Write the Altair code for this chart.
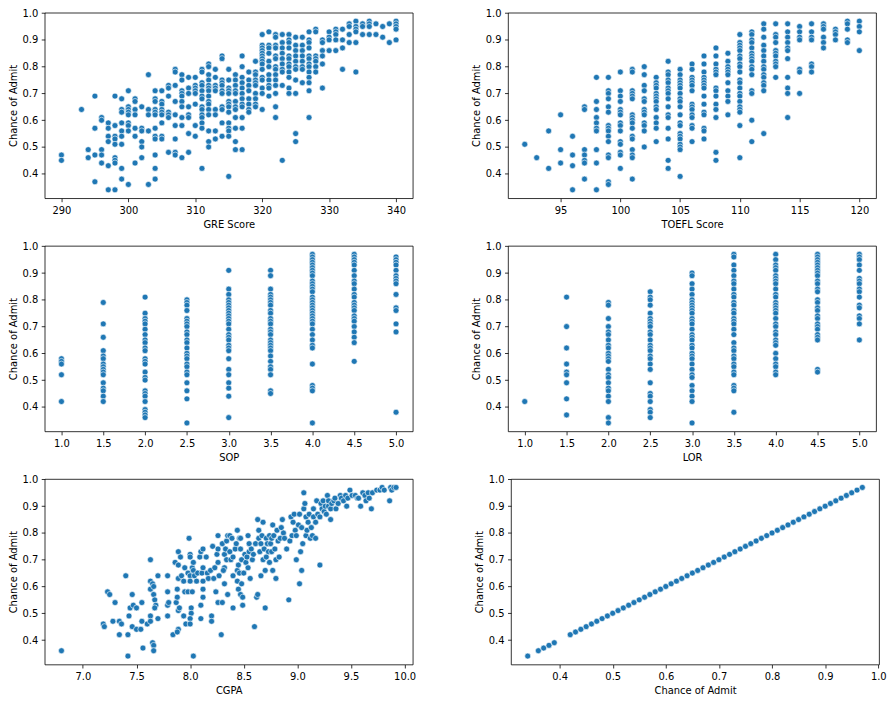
import altair as alt
import pandas as pd

# ---------------- data ----------------
GRE_COLS = [
    (290, [0.47, 0.45]),
    (293, [0.64]),
    (294, [0.49, 0.46]),
    (295, [0.69, 0.57, 0.47, 0.37]),
    (296, [0.61, 0.60, 0.49, 0.47, 0.44]),
    (297, [0.59, 0.57, 0.54, 0.52, 0.43, 0.34]),
    (298, [0.69, 0.58, 0.54, 0.53, 0.51, 0.46, 0.45, 0.44, 0.34]),
    (299, [0.68, 0.64, 0.63, 0.59, 0.56, 0.54, 0.51, 0.42, 0.38]),
    (300, [0.71, 0.65, 0.64, 0.63, 0.62, 0.59, 0.58, 0.56, 0.36]),
    (301, [0.68, 0.67, 0.64, 0.62, 0.57, 0.54, 0.44]),
    (302, [0.65, 0.57, 0.56, 0.52, 0.50, 0.46]),
    (303, [0.77, 0.64, 0.62, 0.56, 0.36]),
    (304, [0.71, 0.68, 0.67, 0.64, 0.63, 0.62, 0.57, 0.54, 0.53, 0.47, 0.42, 0.38]),
    (305, [0.71, 0.67, 0.66, 0.64, 0.63, 0.62, 0.59, 0.54, 0.53]),
    (306, [0.73, 0.72, 0.69, 0.63, 0.62, 0.61, 0.48]),
    (307, [0.79, 0.78, 0.73, 0.67, 0.62, 0.58, 0.53, 0.48, 0.47]),
    (308, [0.77, 0.75, 0.71, 0.70, 0.69, 0.67, 0.65, 0.61, 0.58, 0.46]),
    (309, [0.76, 0.72, 0.70, 0.65, 0.62, 0.61, 0.55, 0.48]),
    (310, [0.76, 0.73, 0.72, 0.71, 0.70, 0.66, 0.58, 0.54]),
    (311, [0.79, 0.78, 0.74, 0.73, 0.71, 0.69, 0.68, 0.65, 0.64, 0.62, 0.61, 0.59, 0.57, 0.42]),
    (312, [0.81, 0.80, 0.77, 0.75, 0.73, 0.72, 0.71, 0.69, 0.67, 0.66, 0.64, 0.62, 0.56, 0.52, 0.50]),
    (313, [0.79, 0.76, 0.73, 0.72, 0.71, 0.64, 0.62, 0.56, 0.53]),
    (314, [0.84, 0.83, 0.75, 0.74, 0.73, 0.71, 0.70, 0.65, 0.64, 0.59, 0.54]),
    (315, [0.79, 0.75, 0.72, 0.71, 0.70, 0.67, 0.66, 0.65, 0.63, 0.59, 0.57, 0.56, 0.54, 0.39]),
    (316, [0.77, 0.75, 0.73, 0.71, 0.70, 0.67, 0.65, 0.64, 0.61, 0.57, 0.52, 0.49]),
    (317, [0.84, 0.80, 0.76, 0.74, 0.72, 0.70, 0.68, 0.66, 0.65, 0.61, 0.57, 0.49]),
    (318, [0.78, 0.75, 0.73, 0.71, 0.68, 0.66, 0.64, 0.63]),
    (319, [0.82, 0.78, 0.77, 0.75, 0.74, 0.73, 0.70, 0.68, 0.66, 0.65]),
    (320, [0.92, 0.88, 0.87, 0.86, 0.85, 0.84, 0.83, 0.82, 0.81, 0.79, 0.76, 0.75, 0.72, 0.70, 0.64]),
    (321, [0.93, 0.88, 0.87, 0.85, 0.82, 0.80, 0.77, 0.75, 0.73, 0.72, 0.69]),
    (322, [0.92, 0.91, 0.88, 0.87, 0.84, 0.83, 0.80, 0.79, 0.77, 0.75, 0.73, 0.70, 0.65, 0.61]),
    (323, [0.92, 0.89, 0.87, 0.85, 0.83, 0.81, 0.79, 0.78, 0.73, 0.45]),
    (324, [0.92, 0.90, 0.89, 0.87, 0.84, 0.83, 0.81, 0.80, 0.78, 0.76, 0.72, 0.70]),
    (325, [0.91, 0.88, 0.86, 0.84, 0.82, 0.80, 0.79, 0.75, 0.70, 0.55, 0.52]),
    (326, [0.91, 0.88, 0.86, 0.84, 0.82, 0.80, 0.79, 0.74]),
    (327, [0.93, 0.90, 0.89, 0.87, 0.84, 0.83, 0.81, 0.80, 0.78, 0.76, 0.74, 0.71, 0.61]),
    (328, [0.94, 0.93, 0.84, 0.83, 0.82, 0.80, 0.78]),
    (329, [0.90, 0.89, 0.86, 0.84, 0.81, 0.72]),
    (330, [0.93, 0.91, 0.90, 0.86]),
    (331, [0.94, 0.93, 0.92, 0.90, 0.86]),
    (332, [0.94, 0.90, 0.87, 0.79]),
    (333, [0.96, 0.95, 0.92, 0.89]),
    (334, [0.97, 0.95, 0.94, 0.93, 0.89, 0.78]),
    (335, [0.96, 0.95, 0.92]),
    (336, [0.97, 0.96, 0.95, 0.92]),
    (337, [0.96, 0.92]),
    (338, [0.95, 0.91]),
    (339, [0.96, 0.89]),
    (340, [0.97, 0.96, 0.95, 0.94, 0.90]),
]

TOEFL_COLS = [
    (92, [0.51]),
    (93, [0.46]),
    (94, [0.56, 0.42]),
    (95, [0.62, 0.49, 0.44]),
    (96, [0.54, 0.47, 0.43, 0.34]),
    (97, [0.65, 0.64, 0.49, 0.47, 0.45, 0.44, 0.38]),
    (98, [0.76, 0.67, 0.64, 0.61, 0.59, 0.57, 0.56, 0.49, 0.44, 0.34]),
    (99, [0.76, 0.71, 0.70, 0.68, 0.65, 0.63, 0.58, 0.57, 0.56, 0.54, 0.52, 0.47, 0.46, 0.37, 0.36]),
    (100, [0.78, 0.71, 0.69, 0.67, 0.64, 0.63, 0.62, 0.59, 0.58, 0.56, 0.52, 0.51, 0.48, 0.47, 0.42]),
    (101, [0.79, 0.78, 0.71, 0.70, 0.69, 0.68, 0.62, 0.61, 0.60, 0.59, 0.57, 0.54, 0.53, 0.49, 0.47, 0.46, 0.38]),
    (102, [0.80, 0.77, 0.73, 0.71, 0.68, 0.67, 0.64, 0.63, 0.62, 0.59, 0.58, 0.56, 0.50]),
    (103, [0.76, 0.74, 0.73, 0.72, 0.70, 0.69, 0.68, 0.67, 0.65, 0.64, 0.61, 0.59, 0.57, 0.52]),
    (104, [0.82, 0.78, 0.77, 0.75, 0.74, 0.72, 0.71, 0.70, 0.68, 0.65, 0.62, 0.61, 0.57, 0.53, 0.45, 0.42]),
    (105, [0.79, 0.77, 0.75, 0.74, 0.73, 0.72, 0.70, 0.68, 0.67, 0.65, 0.62, 0.59, 0.58, 0.55, 0.54, 0.53, 0.51, 0.50, 0.49, 0.39]),
    (106, [0.81, 0.79, 0.76, 0.75, 0.74, 0.73, 0.71, 0.66, 0.65, 0.64, 0.62, 0.61, 0.58, 0.57, 0.52]),
    (107, [0.84, 0.81, 0.78, 0.76, 0.75, 0.74, 0.73, 0.72, 0.69, 0.66, 0.63, 0.62, 0.57, 0.56, 0.53]),
    (108, [0.87, 0.84, 0.81, 0.79, 0.78, 0.77, 0.72, 0.71, 0.69, 0.66, 0.64, 0.61, 0.48, 0.45]),
    (109, [0.85, 0.82, 0.80, 0.79, 0.78, 0.77, 0.74, 0.71, 0.69, 0.67, 0.62]),
    (110, [0.92, 0.89, 0.88, 0.87, 0.86, 0.84, 0.83, 0.81, 0.80, 0.78, 0.75, 0.74, 0.72, 0.70, 0.69, 0.67, 0.65, 0.64, 0.63, 0.58, 0.46]),
    (111, [0.93, 0.92, 0.90, 0.89, 0.87, 0.85, 0.84, 0.83, 0.82, 0.80, 0.79, 0.77, 0.71, 0.70, 0.60, 0.52]),
    (112, [0.96, 0.94, 0.91, 0.88, 0.86, 0.84, 0.82, 0.80, 0.79, 0.77, 0.76, 0.74, 0.73, 0.71, 0.55]),
    (113, [0.96, 0.92, 0.91, 0.89, 0.86, 0.85, 0.84, 0.82, 0.81, 0.80, 0.76]),
    (114, [0.96, 0.93, 0.91, 0.89, 0.87, 0.86, 0.83, 0.76, 0.72, 0.70, 0.61]),
    (115, [0.95, 0.93, 0.91, 0.90, 0.79, 0.78, 0.70]),
    (116, [0.96, 0.93, 0.91, 0.90, 0.81, 0.80, 0.78]),
    (117, [0.96, 0.95, 0.94, 0.91, 0.89, 0.87]),
    (118, [0.94, 0.93, 0.92, 0.90]),
    (119, [0.97, 0.96, 0.94, 0.90, 0.89]),
    (120, [0.97, 0.95, 0.93, 0.86]),
]

SOP_COLS = [
    (1.0, [0.58, 0.57, 0.56, 0.52, 0.42]),
    (1.5, [0.79, 0.71, 0.66, 0.61, 0.59, 0.58, 0.56, 0.55, 0.54, 0.53, 0.52, 0.49, 0.47, 0.46, 0.44, 0.42]),
    (2.0, [0.81, 0.75, 0.73, 0.72, 0.71, 0.69, 0.67, 0.65, 0.64, 0.62, 0.61, 0.58, 0.57, 0.56, 0.53, 0.51,
           0.50, 0.46, 0.45, 0.44, 0.42, 0.39, 0.38, 0.37, 0.36]),
    (2.5, [0.80, 0.79, 0.78, 0.76, 0.73, 0.72, 0.71, 0.70, 0.68, 0.67, 0.65, 0.64, 0.62, 0.60, 0.59, 0.58,
           0.56, 0.55, 0.53, 0.52, 0.49, 0.46, 0.43, 0.34]),
    (3.0, [0.91, 0.84, 0.82, 0.80, 0.79, 0.78, 0.77, 0.76, 0.75, 0.74, 0.73, 0.72, 0.71, 0.69, 0.67, 0.66,
           0.65, 0.63, 0.62, 0.61, 0.58, 0.54, 0.52, 0.49, 0.47, 0.44, 0.36]),
    (3.5, [0.91, 0.89, 0.84, 0.82, 0.81, 0.80, 0.79, 0.78, 0.76, 0.75, 0.73, 0.72, 0.71, 0.69, 0.68, 0.67,
           0.65, 0.64, 0.63, 0.62, 0.61, 0.59, 0.57, 0.55, 0.54, 0.52, 0.46, 0.45]),
    (4.0, [0.97, 0.96, 0.95, 0.94, 0.93, 0.92, 0.91, 0.90, 0.89, 0.87, 0.86, 0.85, 0.84, 0.83, 0.81, 0.80,
           0.79, 0.78, 0.77, 0.76, 0.75, 0.74, 0.73, 0.72, 0.71, 0.69, 0.67, 0.65, 0.63, 0.62, 0.56, 0.48,
           0.47, 0.46, 0.34]),
    (4.5, [0.97, 0.96, 0.95, 0.94, 0.93, 0.91, 0.89, 0.87, 0.86, 0.84, 0.82, 0.81, 0.79, 0.78, 0.77, 0.76,
           0.74, 0.73, 0.72, 0.70, 0.68, 0.66, 0.64, 0.57]),
    (5.0, [0.96, 0.95, 0.94, 0.93, 0.91, 0.89, 0.88, 0.87, 0.86, 0.82, 0.77, 0.76, 0.71, 0.68, 0.38]),
]

LOR_COLS = [
    (1.0, [0.42]),
    (1.5, [0.81, 0.70, 0.62, 0.56, 0.53, 0.52, 0.49, 0.43, 0.37]),
    (2.0, [0.79, 0.78, 0.73, 0.70, 0.68, 0.67, 0.65, 0.63, 0.62, 0.60, 0.59, 0.58, 0.57, 0.54, 0.52, 0.51,
           0.49, 0.47, 0.46, 0.44, 0.42, 0.36, 0.34]),
    (2.5, [0.83, 0.81, 0.80, 0.78, 0.75, 0.73, 0.72, 0.71, 0.70, 0.68, 0.67, 0.65, 0.63, 0.62, 0.61, 0.59,
           0.58, 0.56, 0.54, 0.49, 0.45, 0.44, 0.42, 0.39, 0.38, 0.36]),
    (3.0, [0.90, 0.89, 0.86, 0.84, 0.82, 0.80, 0.79, 0.78, 0.77, 0.76, 0.75, 0.73, 0.72, 0.71, 0.69, 0.67,
           0.66, 0.65, 0.63, 0.62, 0.60, 0.59, 0.58, 0.56, 0.54, 0.52, 0.51, 0.48, 0.46, 0.44, 0.42, 0.34]),
    (3.5, [0.97, 0.96, 0.93, 0.91, 0.89, 0.87, 0.86, 0.84, 0.82, 0.81, 0.79, 0.78, 0.76, 0.75, 0.73, 0.72,
           0.71, 0.69, 0.67, 0.64, 0.62, 0.61, 0.59, 0.58, 0.56, 0.55, 0.53, 0.52, 0.48, 0.47, 0.46, 0.38]),
    (4.0, [0.97, 0.95, 0.93, 0.92, 0.91, 0.89, 0.88, 0.87, 0.86, 0.84, 0.82, 0.81, 0.79, 0.78, 0.77, 0.76,
           0.75, 0.73, 0.71, 0.70, 0.68, 0.67, 0.65, 0.64, 0.63, 0.60, 0.58, 0.56, 0.55, 0.53, 0.52]),
    (4.5, [0.97, 0.96, 0.95, 0.94, 0.93, 0.92, 0.91, 0.90, 0.89, 0.87, 0.86, 0.84, 0.83, 0.80, 0.79, 0.77,
           0.76, 0.74, 0.73, 0.71, 0.70, 0.69, 0.67, 0.66, 0.65, 0.54, 0.53]),
    (5.0, [0.97, 0.96, 0.95, 0.93, 0.91, 0.88, 0.87, 0.86, 0.84, 0.83, 0.81, 0.78, 0.77, 0.74, 0.73, 0.71, 0.65]),
]

CGPA_X = [
    6.80, 7.19, 7.20, 7.23, 7.25, 7.28, 7.30, 7.34, 7.34, 7.36, 7.40, 7.42, 7.42, 7.43, 7.44, 7.46, 7.47,
    7.46, 7.50, 7.50, 7.54, 7.55, 7.55, 7.56, 7.60, 7.63, 7.63, 7.63, 7.63, 7.63, 7.65, 7.66, 7.66, 7.65,
    7.66, 7.66, 7.67, 7.68, 7.67, 7.70, 7.70, 7.79, 7.79, 7.79, 7.79, 7.80, 7.84, 7.86, 7.87, 7.88, 7.88,
    7.89, 7.89, 7.89, 7.89, 7.89, 7.88, 7.90, 7.91, 7.92, 7.94, 7.94, 7.95, 7.95, 7.96, 7.98, 7.98, 7.99,
    8.00, 8.00, 8.00, 8.00, 8.01, 8.01, 8.00, 8.00, 8.02, 8.02, 8.03, 8.03, 8.03, 8.04, 8.06, 8.07, 8.09,
    8.10, 8.10, 8.10, 8.11, 8.12, 8.12, 8.12, 8.12, 8.12, 8.15, 8.16, 8.17, 8.19, 8.20, 8.20, 8.21, 8.22,
    8.23, 8.24, 8.25, 8.26, 8.26, 8.26, 8.26, 8.27, 8.29, 8.30, 8.30, 8.32, 8.32, 8.33, 8.34, 8.34, 8.35,
    8.35, 8.32, 8.31,
    8.37, 8.37, 8.38, 8.39, 8.40, 8.40, 8.40, 8.42, 8.43, 8.44, 8.44, 8.44, 8.45, 8.45, 8.46, 8.46, 8.47,
    8.47, 8.47, 8.48, 8.48, 8.49, 8.49, 8.50, 8.51, 8.52, 8.53, 8.54, 8.54, 8.55, 8.55, 8.56, 8.57, 8.58,
    8.59, 8.60, 8.61, 8.62, 8.63, 8.63, 8.64, 8.64, 8.65, 8.66, 8.66, 8.67, 8.68, 8.68, 8.69, 8.70, 8.70,
    8.71, 8.71, 8.72, 8.73, 8.74, 8.74, 8.75, 8.76, 8.76, 8.77, 8.77, 8.78, 8.79, 8.80, 8.80, 8.81, 8.82,
    8.83, 8.84, 8.85, 8.86, 8.87, 8.88, 8.90, 8.92, 8.93, 8.94, 8.95, 8.96, 8.97, 8.98, 8.99, 8.99, 9.01,
    9.02, 9.02, 9.03, 9.04, 9.04, 9.05, 9.06, 9.06, 9.07, 9.08, 9.08, 9.09, 9.10, 9.11, 9.12, 9.13, 9.14,
    9.15, 9.15, 9.17, 9.17, 9.18, 9.19, 9.21, 9.21, 9.22, 9.23, 9.24, 9.25, 9.26, 9.27, 9.28, 9.29, 9.29,
    9.31, 9.31, 9.32, 9.34, 9.35, 9.36, 9.38, 9.40, 9.41, 9.43, 9.45, 9.46, 9.47, 9.49, 9.51, 9.54, 9.56,
    9.57, 9.59, 9.61, 9.63, 9.64, 9.66, 9.67, 9.69, 9.70, 9.74, 9.77, 9.79, 9.81, 9.86, 9.87, 9.88, 9.90,
    9.92,
]
CGPA_Y = [
    0.36, 0.46, 0.45, 0.58, 0.57, 0.47, 0.54, 0.47, 0.42, 0.46, 0.64, 0.42, 0.34, 0.49, 0.52, 0.57, 0.53,
    0.45, 0.52, 0.44, 0.44, 0.54, 0.47, 0.37, 0.46, 0.70, 0.62, 0.59, 0.49, 0.47, 0.39, 0.38, 0.36, 0.61,
    0.60, 0.57, 0.55, 0.53, 0.52, 0.64, 0.48, 0.64, 0.58, 0.53, 0.49, 0.54, 0.42, 0.69, 0.54, 0.59, 0.56,
    0.73, 0.68, 0.63, 0.51, 0.44, 0.43, 0.52, 0.71, 0.64, 0.62, 0.49, 0.67, 0.58, 0.46, 0.58, 0.65, 0.78,
    0.72, 0.71, 0.64, 0.62, 0.52, 0.50, 0.48, 0.46, 0.58, 0.67, 0.34, 0.69, 0.66, 0.64, 0.62, 0.65, 0.71,
    0.73, 0.53, 0.48, 0.65, 0.62, 0.67, 0.74, 0.59, 0.56, 0.71, 0.65, 0.63, 0.66, 0.49, 0.47, 0.75, 0.63,
    0.67, 0.58, 0.72, 0.79, 0.54, 0.69, 0.74, 0.64, 0.42, 0.54, 0.76, 0.72, 0.61, 0.74, 0.77, 0.70, 0.57,
    0.79, 0.67, 0.66,
    0.79, 0.73, 0.70, 0.78, 0.64, 0.52, 0.71, 0.74, 0.76, 0.81, 0.66, 0.62, 0.59, 0.68, 0.78, 0.65, 0.57,
    0.78, 0.74, 0.70, 0.61, 0.53, 0.56, 0.65, 0.72, 0.69, 0.71, 0.67, 0.79, 0.76, 0.73, 0.63, 0.74, 0.70,
    0.72, 0.45, 0.76, 0.56, 0.57, 0.85, 0.81, 0.78, 0.73, 0.76, 0.64, 0.79, 0.84, 0.70, 0.74, 0.52, 0.66,
    0.78, 0.71, 0.76, 0.73, 0.79, 0.69, 0.76, 0.78, 0.73, 0.83, 0.66, 0.79, 0.74, 0.63, 0.70, 0.81, 0.77,
    0.71, 0.78, 0.82, 0.85, 0.80, 0.78, 0.74, 0.55, 0.77, 0.86, 0.79, 0.84, 0.87, 0.81, 0.70, 0.79, 0.83,
    0.87, 0.61, 0.73, 0.66, 0.82, 0.76, 0.95, 0.89, 0.91, 0.86, 0.79, 0.81, 0.84, 0.87, 0.78, 0.82, 0.79,
    0.86, 0.89, 0.78, 0.84, 0.92, 0.87, 0.68, 0.86, 0.91, 0.89, 0.92, 0.88, 0.90, 0.87, 0.94, 0.90, 0.92,
    0.85, 0.89, 0.91, 0.92, 0.93, 0.89, 0.91, 0.94, 0.93, 0.92, 0.94, 0.90, 0.93, 0.96, 0.94, 0.94, 0.93,
    0.93, 0.90, 0.95, 0.94, 0.92, 0.95, 0.93, 0.89, 0.95, 0.96, 0.96, 0.97, 0.96, 0.92, 0.97, 0.96, 0.97,
    0.97,
]

CHANCE_VALUES = [
    0.34, 0.36, 0.37, 0.38, 0.39, 0.42, 0.43, 0.44, 0.45, 0.46, 0.47, 0.48, 0.49, 0.50, 0.51, 0.52, 0.53,
    0.54, 0.55, 0.56, 0.57, 0.58, 0.59, 0.60, 0.61, 0.62, 0.63, 0.64, 0.65, 0.66, 0.67, 0.68, 0.69, 0.70,
    0.71, 0.72, 0.73, 0.74, 0.75, 0.76, 0.77, 0.78, 0.79, 0.80, 0.81, 0.82, 0.83, 0.84, 0.85, 0.86, 0.87,
    0.88, 0.89, 0.90, 0.91, 0.92, 0.93, 0.94, 0.95, 0.96, 0.97,
]

Y_TICKS = [0.4, 0.5, 0.6, 0.7, 0.8, 0.9, 1.0]
GRE_TICKS = [290, 300, 310, 320, 330, 340]
TOEFL_TICKS = [95, 100, 105, 110, 115, 120]
HALF_TICKS = [1.0, 1.5, 2.0, 2.5, 3.0, 3.5, 4.0, 4.5, 5.0]
CGPA_TICKS = [7.0, 7.5, 8.0, 8.5, 9.0, 9.5, 10.0]
CHANCE_TICKS = [0.4, 0.5, 0.6, 0.7, 0.8, 0.9, 1.0]

# ---------------- build ----------------
BLUE = "#1f77b4"
Y_DOMAIN = [0.3085, 1.0015]
W, H = 371, 187


def expand(cols):
    xs, ys = [], []
    for x, vals in cols:
        for v in vals:
            xs.append(x)
            ys.append(v)
    return pd.DataFrame({"x": xs, "y": ys})


def panel(df, title, domain, ticks, fmt):
    return alt.Chart(df).mark_circle(
        size=36, color=BLUE, opacity=1, stroke="white", strokeWidth=0.6
    ).encode(
        x=alt.X("x:Q", scale=alt.Scale(domain=domain, nice=False, zero=False),
                axis=alt.Axis(values=ticks, format=fmt, title=title)),
        y=alt.Y("y:Q", scale=alt.Scale(domain=Y_DOMAIN, nice=False, zero=False),
                axis=alt.Axis(values=Y_TICKS, format=".1f", title="Chance of Admit")),
    ).properties(width=W, height=H)


p1 = panel(expand(GRE_COLS), "GRE Score", [287.5, 342.5], GRE_TICKS, "d")
p2 = panel(expand(TOEFL_COLS), "TOEFL Score", [90.6, 121.4], TOEFL_TICKS, "d")
p3 = panel(expand(SOP_COLS), "SOP", [0.8, 5.2], HALF_TICKS, ".1f")
p4 = panel(expand(LOR_COLS), "LOR", [0.8, 5.2], HALF_TICKS, ".1f")
p5 = panel(pd.DataFrame({"x": CGPA_X, "y": CGPA_Y}), "CGPA", [6.644, 10.076], CGPA_TICKS, ".1f")
p6 = panel(pd.DataFrame({"x": CHANCE_VALUES, "y": CHANCE_VALUES}), "Chance of Admit",
           [0.3085, 1.0015], CHANCE_TICKS, ".1f")

SH = 57
SV = 11
chart = alt.vconcat(
    alt.hconcat(p1, p2, spacing=SH),
    alt.hconcat(p3, p4, spacing=SH),
    alt.hconcat(p5, p6, spacing=SH),
    spacing=SV,
).properties(
    padding={"left": -1, "top": -3, "right": 0, "bottom": 0}
).configure_view(
    stroke="black", strokeWidth=0.8
).configure_axis(
    domain=False, grid=False, tickColor="black", tickSize=3.5, tickWidth=0.8,
    labelFont="DejaVu Sans", labelFontSize=10, labelColor="black", labelPadding=3.5,
    labelFlush=False, labelOverlap=False,
    titleFont="DejaVu Sans", titleFontSize=10, titleFontWeight="normal", titleColor="black",
    titlePadding=4,
)

chart.save("out.html", embed_options={"renderer": "svg", "actions": False})
